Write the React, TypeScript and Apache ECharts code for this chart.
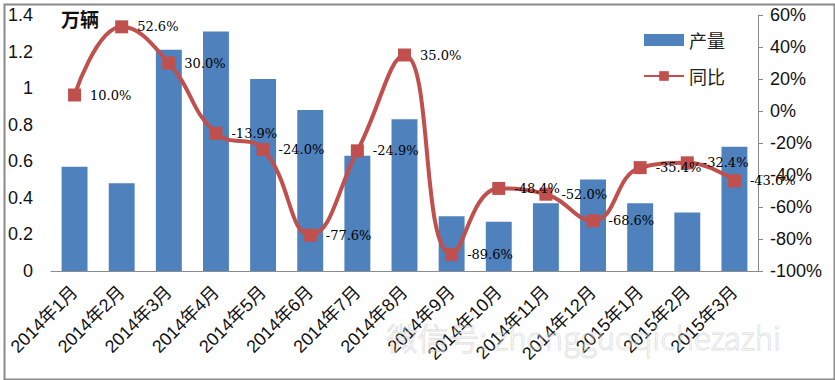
import React, { useEffect, useRef } from "react";
import * as echarts from "echarts";

const categories = [
  "2014年1月", "2014年2月", "2014年3月", "2014年4月", "2014年5月",
  "2014年6月", "2014年7月", "2014年8月", "2014年9月", "2014年10月",
  "2014年11月", "2014年12月", "2015年1月", "2015年2月", "2015年3月",
];
const production = [0.57, 0.48, 1.21, 1.31, 1.05, 0.88, 0.63, 0.83, 0.3, 0.27, 0.37, 0.5, 0.37, 0.32, 0.68];
const yoy = [10.0, 52.6, 30.0, -13.9, -24.0, -77.6, -24.9, 35.0, -89.6, -48.4, -52.0, -68.6, -35.4, -32.4, -43.6];
const seriesNames = ["产量", "同比"];
const unitLabel = "万辆";
const watermark = "微信号: zhongguoqichezazhi";

const SANS = "'Liberation Sans', Arial, 'Noto Sans CJK SC', sans-serif";
const CJK = "'Noto Sans CJK SC', 'Liberation Sans', sans-serif";

export default function App() {
  const ref = useRef<HTMLDivElement>(null);
  useEffect(() => {
    if (!ref.current) return;
    const chart = echarts.init(ref.current, undefined, { renderer: "svg" });
    chart.setOption({
      animation: false,
      backgroundColor: "#ffffff",
      grid: { left: 51, right: 77, top: 15, bottom: 109, containLabel: false },
      legend: {
        orient: "vertical",
        left: 638,
        top: 26,
        itemWidth: 40,
        itemHeight: 12,
        itemGap: 18,
        textStyle: { fontSize: 18, color: "#222", fontFamily: CJK },
        data: [
          { name: seriesNames[0], icon: "rect" },
          { name: seriesNames[1] },
        ],
      },
      xAxis: {
        type: "category",
        data: categories,
        axisLine: { show: true, lineStyle: { color: "#8c8c8c", width: 1 } },
        axisTick: { show: false },
        axisLabel: {
          rotate: 45,
          interval: 0,
          margin: 18,
          fontSize: 18,
          color: "#111",
          fontFamily: SANS,
        },
      },
      yAxis: [
        {
          type: "value",
          min: 0,
          max: 1.4,
          interval: 0.2,
          axisLine: { show: false },
          axisTick: { show: false },
          splitLine: { show: false },
          axisLabel: {
            fontSize: 18,
            color: "#111",
            margin: 18,
            fontFamily: SANS,
            formatter: (v: number) => String(+v.toFixed(1)),
          },
        },
        {
          type: "value",
          position: "right",
          min: -100,
          max: 60,
          interval: 20,
          axisLine: { show: true, lineStyle: { color: "#8c8c8c", width: 1 } },
          axisTick: { show: true, inside: false, length: 5, lineStyle: { color: "#8c8c8c" } },
          splitLine: { show: false },
          axisLabel: {
            fontSize: 18,
            color: "#111",
            margin: 12,
            fontFamily: SANS,
            formatter: "{value}%",
          },
        },
      ],
      series: [
        {
          name: seriesNames[0],
          type: "bar",
          data: production,
          barWidth: "55%",
          itemStyle: { color: "#4F81BD" },
          yAxisIndex: 0,
        },
        {
          name: seriesNames[1],
          type: "line",
          data: yoy,
          yAxisIndex: 1,
          smooth: 0.45,
          symbol: "rect",
          symbolSize: 13,
          lineStyle: { color: "#C0504D", width: 4 },
          itemStyle: { color: "#C0504D" },
          label: {
            show: true,
            position: "right",
            distance: 9,
            fontSize: 13,
            color: "#000",
            fontFamily: "'DejaVu Serif', serif",
            formatter: (p: any) => (p.value as number).toFixed(1) + "%",
          },
          z: 5,
        },
      ],
      graphic: [
        {
          type: "rect",
          left: 2,
          top: 2,
          shape: { width: 830, height: 375 },
          style: { fill: "none", stroke: "#8a8a8a", lineWidth: 2 },
          silent: true,
        },
        {
          type: "text",
          left: 61,
          top: 9,
          style: {
            text: unitLabel,
            font: "bold 19px 'Noto Sans CJK SC', sans-serif",
            fill: "#111",
          },
        },
        {
          type: "text",
          left: 386,
          top: 320,
          z: 100,
          style: {
            text: watermark,
            font: "300 31px 'Noto Sans CJK SC', 'DejaVu Sans', sans-serif",
            fill: "rgba(255,255,255,0.3)",
            stroke: "rgba(170,170,170,0.4)",
            lineWidth: 1,
          },
          silent: true,
        },
      ],
    });
    return () => chart.dispose();
  }, []);
  return (
    <div
      ref={ref}
      style={{ position: "absolute", left: 0, top: 0, width: 835, height: 380, background: "#fff" }}
    />
  );
}
